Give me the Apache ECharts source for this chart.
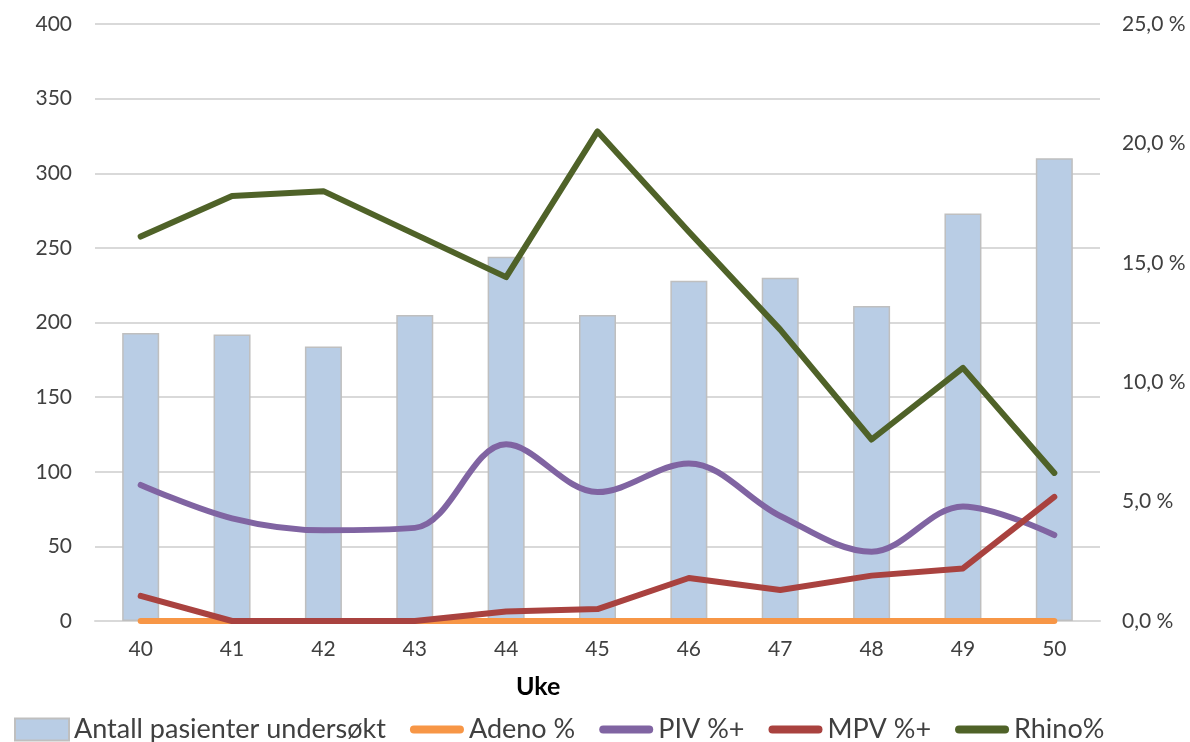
<!DOCTYPE html>
<html>
<head>
<meta charset="utf-8">
<script src="https://cdn.jsdelivr.net/npm/echarts@6/dist/echarts.min.js"></script>
<style>
  html, body { margin: 0; padding: 0; background: #fff; }
  #chart-main { width: 1190px; height: 742px; }
</style>
</head>
<body>
<div id="chart-main"></div>
<script>
// uker
const weeks = ['40', '41', '42', '43', '44', '45', '46', '47', '48', '49', '50'];
// antall pasienter (venstre akse)
const patients = [193, 192, 184, 205, 244, 205, 228, 230, 211, 273, 310];
// prosent (hoyre akse)
const adeno = [0, 0, 0, 0, 0, 0, 0, 0, 0, 0, 0];
const piv = [5.7, 4.3, 3.8, 3.9, 7.4, 5.4, 6.6, 4.4, 2.9, 4.8, 3.6];
const mpv = [1.05, 0, 0, 0, 0.4, 0.5, 1.8, 1.3, 1.9, 2.2, 5.2];
const rhino = [16.1, 17.8, 18.0, 16.2, 14.4, 20.5, 16.3, 12.2, 7.6, 10.6, 6.2];

const font = 'Lato, "Liberation Sans", sans-serif';
// avrundet strek til legend-ikon for linjer
const lineIcon = 'path://M4,0 H50 A4,4 0 0 1 50,8 H4 A4,4 0 0 1 4,0 Z';

let myChart = echarts.init(document.getElementById('chart-main'));

function lineSeries(name, data, color, smooth) {
  return {
    name: name,
    type: 'line',
    yAxisIndex: 1,
    data: data,
    smooth: smooth,
    symbol: 'none',
    lineStyle: { color: color, width: 6, cap: 'round', join: 'round' },
    itemStyle: { color: color }
  };
}

let option = {
  animation: false,
  textStyle: { fontFamily: font },
  grid: { left: 95, right: 90, top: 24, bottom: 121 },
  title: {
    text: 'Uke',
    left: 511,
    top: 669,
    textStyle: { fontSize: 25, fontWeight: 'bold', color: '#000', fontFamily: font }
  },
  legend: {
    top: 711,
    left: 9,
    itemWidth: 54,
    itemHeight: 22,
    itemGap: 24,
    textStyle: { fontSize: 27, color: '#404040', fontFamily: font },
    data: [
      { name: 'Antall pasienter undersøkt', icon: 'rect' },
      { name: 'Adeno %', icon: lineIcon },
      { name: 'PIV %+', icon: lineIcon },
      { name: 'MPV %+', icon: lineIcon },
      { name: 'Rhino%', icon: lineIcon }
    ]
  },
  xAxis: {
    type: 'category',
    data: weeks,
    axisLine: { lineStyle: { color: '#D9D9D9', width: 2 } },
    axisTick: { show: false },
    axisLabel: { fontSize: 21, color: '#404040', margin: 18 }
  },
  yAxis: [
    {
      type: 'value',
      min: 0,
      max: 400,
      interval: 50,
      axisLine: { show: false },
      axisTick: { show: false },
      axisLabel: { fontSize: 21, color: '#404040', margin: 23 },
      splitLine: { lineStyle: { color: '#D9D9D9', width: 2 } }
    },
    {
      type: 'value',
      min: 0,
      max: 25,
      interval: 5,
      axisLine: { show: false },
      axisTick: { show: false },
      splitLine: { show: false },
      axisLabel: {
        fontSize: 21,
        color: '#404040',
        margin: 22,
        formatter: v => v.toFixed(1).replace('.', ',') + ' %'
      }
    }
  ],
  series: [
    {
      name: 'Antall pasienter undersøkt',
      type: 'bar',
      data: patients,
      barWidth: 37,
      itemStyle: { color: '#B9CDE5', borderColor: '#BFBFBF', borderWidth: 1.5 }
    },
    lineSeries('Adeno %', adeno, '#F79646', false),
    lineSeries('PIV %+', piv, '#8064A2', 0.35),
    lineSeries('MPV %+', mpv, '#A9423F', false),
    lineSeries('Rhino%', rhino, '#4F6228', false)
  ]
};

myChart.setOption(option);
</script>
</body>
</html>
